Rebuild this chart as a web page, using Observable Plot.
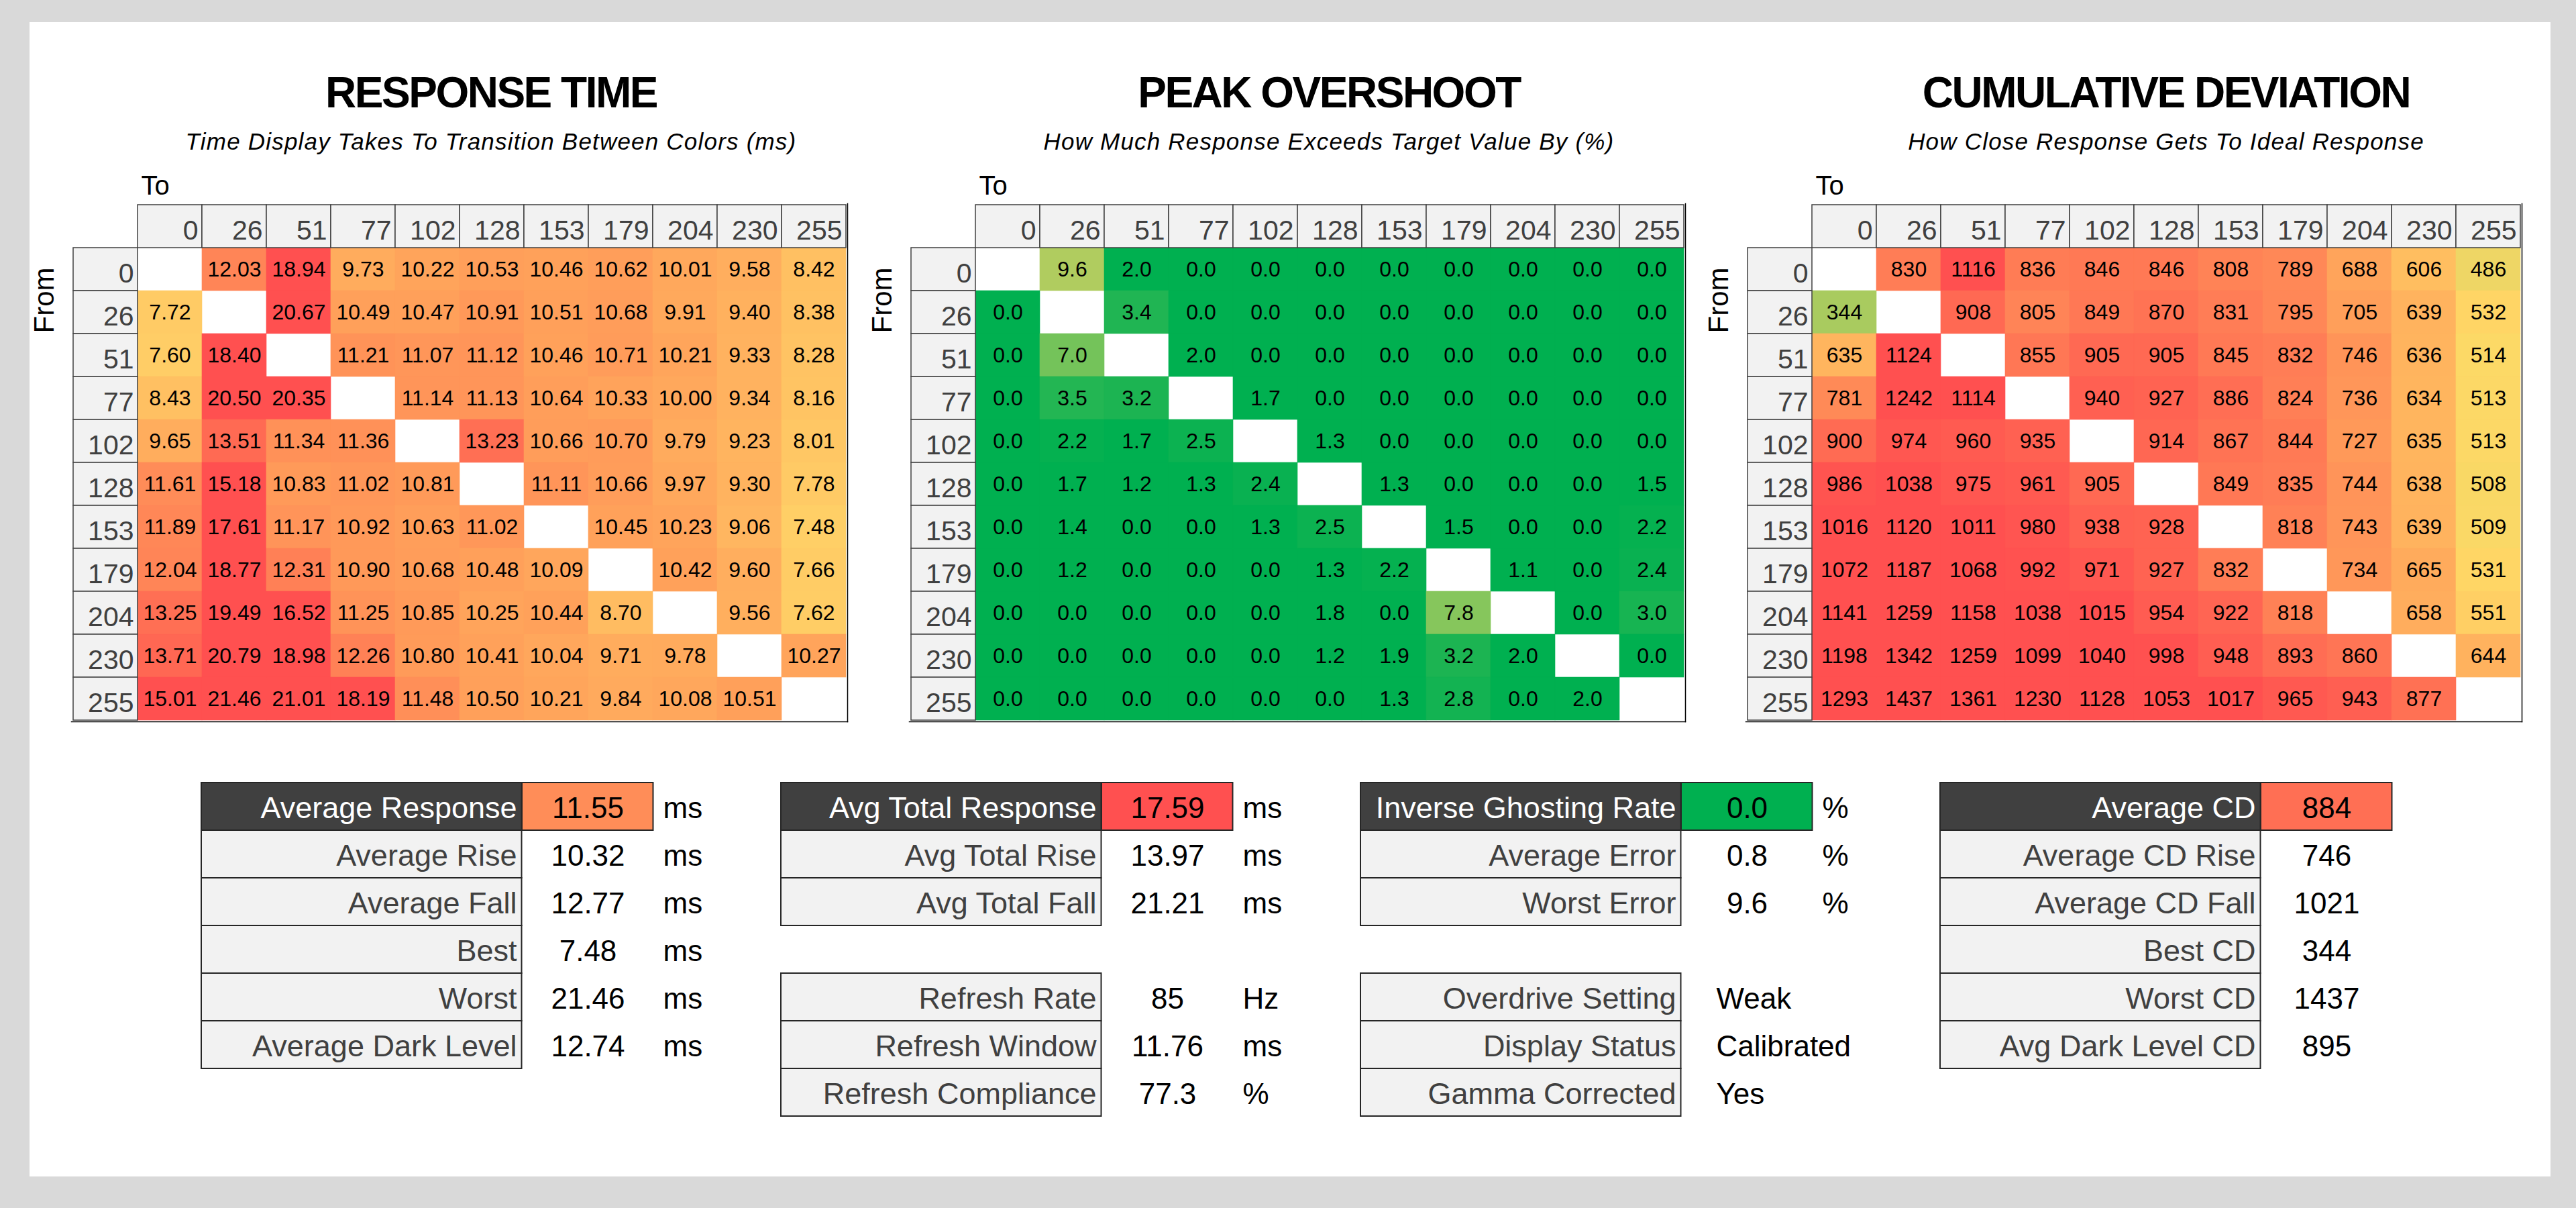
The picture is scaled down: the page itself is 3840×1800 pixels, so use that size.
<!DOCTYPE html>
<html><head><meta charset="utf-8">
<script src="https://cdn.jsdelivr.net/npm/d3@7"></script>
<script src="https://cdn.jsdelivr.net/npm/@observablehq/plot@0.6"></script>
<style>
html, body { margin:0; padding:0; background:#d9d9d9; }
#page { position:relative; width:3840px; height:1800px; overflow:hidden; background:#d9d9d9; font-family:"Liberation Sans", Arial, sans-serif; }
#panel { position:absolute; left:44px; top:33px; width:3758px; height:1720px; background:#fff; }
.title { position:absolute; width:1200px; text-align:center; font-weight:bold; font-size:64px; letter-spacing:-2.5px; line-height:64px; color:#000; }
.sub { position:absolute; width:1200px; text-align:center; font-style:italic; font-size:35px; letter-spacing:1.2px; line-height:35px; color:#000; }
.plot { position:absolute; }
</style></head>
<body><div id="page"><div id="panel"></div></div>
<script>
// ---------------- data ----------------
const levels = [0, 26, 51, 77, 102, 128, 153, 179, 204, 230, 255];

const titles = ["RESPONSE TIME", "PEAK OVERSHOOT", "CUMULATIVE DEVIATION"];
const subtitles = [
  "Time Display Takes To Transition Between Colors (ms)",
  "How Much Response Exceeds Target Value By (%)",
  "How Close Response Gets To Ideal Response"
];

// rows = From, columns = To
const responseTime = [
  [null, 12.03, 18.94, 9.73, 10.22, 10.53, 10.46, 10.62, 10.01, 9.58, 8.42],
  [7.72, null, 20.67, 10.49, 10.47, 10.91, 10.51, 10.68, 9.91, 9.40, 8.38],
  [7.60, 18.40, null, 11.21, 11.07, 11.12, 10.46, 10.71, 10.21, 9.33, 8.28],
  [8.43, 20.50, 20.35, null, 11.14, 11.13, 10.64, 10.33, 10.00, 9.34, 8.16],
  [9.65, 13.51, 11.34, 11.36, null, 13.23, 10.66, 10.70, 9.79, 9.23, 8.01],
  [11.61, 15.18, 10.83, 11.02, 10.81, null, 11.11, 10.66, 9.97, 9.30, 7.78],
  [11.89, 17.61, 11.17, 10.92, 10.63, 11.02, null, 10.45, 10.23, 9.06, 7.48],
  [12.04, 18.77, 12.31, 10.90, 10.68, 10.48, 10.09, null, 10.42, 9.60, 7.66],
  [13.25, 19.49, 16.52, 11.25, 10.85, 10.25, 10.44, 8.70, null, 9.56, 7.62],
  [13.71, 20.79, 18.98, 12.26, 10.80, 10.41, 10.04, 9.71, 9.78, null, 10.27],
  [15.01, 21.46, 21.01, 18.19, 11.48, 10.50, 10.21, 9.84, 10.08, 10.51, null]
];

const peakOvershoot = [
  [null, 9.6, 2.0, 0.0, 0.0, 0.0, 0.0, 0.0, 0.0, 0.0, 0.0],
  [0.0, null, 3.4, 0.0, 0.0, 0.0, 0.0, 0.0, 0.0, 0.0, 0.0],
  [0.0, 7.0, null, 2.0, 0.0, 0.0, 0.0, 0.0, 0.0, 0.0, 0.0],
  [0.0, 3.5, 3.2, null, 1.7, 0.0, 0.0, 0.0, 0.0, 0.0, 0.0],
  [0.0, 2.2, 1.7, 2.5, null, 1.3, 0.0, 0.0, 0.0, 0.0, 0.0],
  [0.0, 1.7, 1.2, 1.3, 2.4, null, 1.3, 0.0, 0.0, 0.0, 1.5],
  [0.0, 1.4, 0.0, 0.0, 1.3, 2.5, null, 1.5, 0.0, 0.0, 2.2],
  [0.0, 1.2, 0.0, 0.0, 0.0, 1.3, 2.2, null, 1.1, 0.0, 2.4],
  [0.0, 0.0, 0.0, 0.0, 0.0, 1.8, 0.0, 7.8, null, 0.0, 3.0],
  [0.0, 0.0, 0.0, 0.0, 0.0, 1.2, 1.9, 3.2, 2.0, null, 0.0],
  [0.0, 0.0, 0.0, 0.0, 0.0, 0.0, 1.3, 2.8, 0.0, 2.0, null]
];

const cumulativeDeviation = [
  [null, 830, 1116, 836, 846, 846, 808, 789, 688, 606, 486],
  [344, null, 908, 805, 849, 870, 831, 795, 705, 639, 532],
  [635, 1124, null, 855, 905, 905, 845, 832, 746, 636, 514],
  [781, 1242, 1114, null, 940, 927, 886, 824, 736, 634, 513],
  [900, 974, 960, 935, null, 914, 867, 844, 727, 635, 513],
  [986, 1038, 975, 961, 905, null, 849, 835, 744, 638, 508],
  [1016, 1120, 1011, 980, 938, 928, null, 818, 743, 639, 509],
  [1072, 1187, 1068, 992, 971, 927, 832, null, 734, 665, 531],
  [1141, 1259, 1158, 1038, 1015, 954, 922, 818, null, 658, 551],
  [1198, 1342, 1259, 1099, 1040, 998, 948, 893, 860, null, 644],
  [1293, 1437, 1361, 1230, 1128, 1053, 1017, 965, 943, 877, null]
];

// summary tables
const rtStatLabels = ["Average Response", "Average Rise", "Average Fall", "Best", "Worst", "Average Dark Level"];
const rtStatValues = [11.55, 10.32, 12.77, 7.48, 21.46, 12.74];
const rtStatUnits  = ["ms", "ms", "ms", "ms", "ms", "ms"];

const totalStatLabels = ["Avg Total Response", "Avg Total Rise", "Avg Total Fall", null, "Refresh Rate", "Refresh Window", "Refresh Compliance"];
const totalStatValues = [17.59, 13.97, 21.21, null, 85, 11.76, 77.3];
const totalStatUnits  = ["ms", "ms", "ms", null, "Hz", "ms", "%"];

const ghostStatLabels = ["Inverse Ghosting Rate", "Average Error", "Worst Error", null, "Overdrive Setting", "Display Status", "Gamma Corrected"];
const ghostStatValues = [0.0, 0.8, 9.6, null, "Weak", "Calibrated", "Yes"];
const ghostStatUnits  = ["%", "%", "%", null, null, null, null];

const cdStatLabels = ["Average CD", "Average CD Rise", "Average CD Fall", "Best CD", "Worst CD", "Avg Dark Level CD"];
const cdStatValues = [884, 746, 1021, 344, 1437, 895];
const cdStatUnits  = [null, null, null, null, null, null];

// ---------------- styling ----------------
const FONT = '"Liberation Sans", Arial, sans-serif';
const rtColor = {type: "linear", domain: [7.48, 10.5, 15, 21.46], range: ["#ffcf66", "#ffa05a", "#ff5050", "#ff5050"], interpolate: "rgb", clamp: true};
const osColor = {type: "linear", domain: [2, 13], range: ["#00b050", "#ffd966"], interpolate: "rgb", clamp: true};
const cdColor = {type: "linear", domain: [0, 520, 700, 1000], range: ["#00b050", "#ffd966", "#ffa05a", "#ff5050"], interpolate: "rgb", clamp: true};

const page = document.getElementById("page");
function place(el, left, top) {
  el.classList.add("plot");
  el.style.left = left + "px";
  el.style.top = top + "px";
  page.appendChild(el);
}

// titles
const dataCenters = [732, 1981, 3229];
titles.forEach((t, i) => {
  const d = document.createElement("div");
  d.className = "title"; d.textContent = t;
  d.style.left = (dataCenters[i] - 600) + "px"; d.style.top = "106px";
  page.appendChild(d);
  const s = document.createElement("div");
  s.className = "sub"; s.textContent = subtitles[i];
  s.style.left = (dataCenters[i] - 600) + "px"; s.style.top = "193px";
  page.appendChild(s);
});

// ---------------- heatmaps ----------------
function heatmap(matrix, colorOpts, fmt) {
  const keys = levels.map(String);
  const cells = [];
  matrix.forEach((row, i) => row.forEach((v, j) => {
    if (v != null) cells.push({from: keys[i], to: keys[j], value: v});
  }));
  return Plot.plot({
    width: 1232, height: 840,
    marginLeft: 70, marginRight: 5, marginTop: 63, marginBottom: 5,
    x: {type: "band", domain: ["hdr", ...keys], padding: 0, axis: null},
    y: {type: "band", domain: ["hdr", ...keys], padding: 0, axis: null},
    color: colorOpts,
    style: {fontFamily: FONT, background: "transparent", overflow: "visible"},
    marks: [
      Plot.cell(cells, {x: "to", y: "from", fill: "value", stroke: "value", strokeWidth: 0.6}),
      Plot.cell(keys, {x: d => d, y: () => "hdr", fill: "#f2f2f2", stroke: "#404040", strokeWidth: 1.5}),
      Plot.cell(keys, {x: () => "hdr", y: d => d, fill: "#f2f2f2", stroke: "#404040", strokeWidth: 1.5}),
      Plot.text(keys, {x: d => d, y: () => "hdr", text: d => d, textAnchor: "end", dx: 42, dy: 6, fontSize: 41, fill: "#404040"}),
      Plot.text(keys, {x: () => "hdr", y: d => d, text: d => d, textAnchor: "end", dx: 42, dy: 6, fontSize: 41, fill: "#404040"}),
      Plot.text(cells, {x: "to", y: "from", text: d => fmt(d.value), fontSize: 32, fill: "#000"}),
      Plot.frame({anchor: "right", stroke: "#000", strokeWidth: 1.5}),
      Plot.frame({anchor: "bottom", stroke: "#000", strokeWidth: 1.5}),
      Plot.text(["To"], {text: d => d, frameAnchor: "top-left", dx: 104, dy: -14, lineAnchor: "bottom", textAnchor: "start", fontSize: 40, fill: "#000"}),
      Plot.text(["From"], {text: d => d, frameAnchor: "top-left", dx: -40, dy: 144, rotate: -90, textAnchor: "middle", lineAnchor: "middle", fontSize: 42, fill: "#000"})
    ]
  });
}

place(heatmap(responseTime, rtColor, v => v.toFixed(2)), 36, 240);
place(heatmap(peakOvershoot, osColor, v => v.toFixed(1)), 1285, 240);
place(heatmap(cumulativeDeviation, cdColor, v => v.toFixed(0)), 2532, 240);

// ---------------- summary tables ----------------
const statTables = [
  {key: "rt", labels: rtStatLabels, values: rtStatValues, units: rtStatUnits, color: rtColor, fmt: v => String(v)},
  {key: "total", labels: totalStatLabels, values: totalStatValues, units: totalStatUnits, color: rtColor, fmt: v => String(v)},
  {key: "ghost", labels: ghostStatLabels, values: ghostStatValues, units: ghostStatUnits, color: osColor, fmt: v => v.toFixed(1)},
  {key: "cd", labels: cdStatLabels, values: cdStatValues, units: cdStatUnits, color: cdColor, fmt: v => String(v)}
];
const statRows = [];
statTables.forEach(t => {
  const sc = Plot.scale({color: t.color});
  t.labels.forEach((label, i) => {
    statRows.push({
      table: t.key, row: i, label, value: t.values[i], unit: t.units[i],
      shown: typeof t.values[i] === "number" ? t.fmt(t.values[i]) : t.values[i],
      fill: i === 0 ? sc.apply(t.values[0]) : null
    });
  });
});

const statPlot = Plot.plot({
  width: 3840, height: 523,
  marginLeft: 299, marginRight: 83, marginTop: 16, marginBottom: 10,
  facet: {data: statRows, x: "table"},
  fx: {domain: statTables.map(t => t.key), padding: 0, axis: null, label: null},
  y: {type: "band", domain: d3.range(7), padding: 0, axis: null},
  color: {type: "identity"},
  style: {fontFamily: FONT, background: "transparent", overflow: "visible"},
  marks: [
    Plot.cell(statRows, {filter: d => d.label, y: "row", fill: d => d.row === 0 ? "#404040" : "#f2f2f2", stroke: "#262626", strokeWidth: 2, insetRight: 386.5}),
    Plot.cell(statRows, {filter: d => d.row === 0, y: "row", fill: "fill", stroke: "#262626", strokeWidth: 2, insetLeft: 478, insetRight: 190.5}),
    Plot.text(statRows, {filter: d => d.label, y: "row", text: "label", frameAnchor: "left", dx: 470, textAnchor: "end", fill: d => d.row === 0 ? "#ffffff" : "#404040", fontSize: 45, dy: 3}),
    Plot.text(statRows, {filter: d => typeof d.value === "number", y: "row", text: "shown", frameAnchor: "left", dx: 576, textAnchor: "middle", fontSize: 44, dy: 3, fill: "#000"}),
    Plot.text(statRows, {filter: d => typeof d.value === "string", y: "row", text: "shown", frameAnchor: "left", dx: 530, textAnchor: "start", fontSize: 44, dy: 3, fill: "#000"}),
    Plot.text(statRows, {filter: d => d.unit, y: "row", text: "unit", frameAnchor: "left", dx: 688, textAnchor: "start", fontSize: 44, dy: 3, fill: "#000"})
  ]
});
place(statPlot, 0, 1150);
</script>
</body></html>
